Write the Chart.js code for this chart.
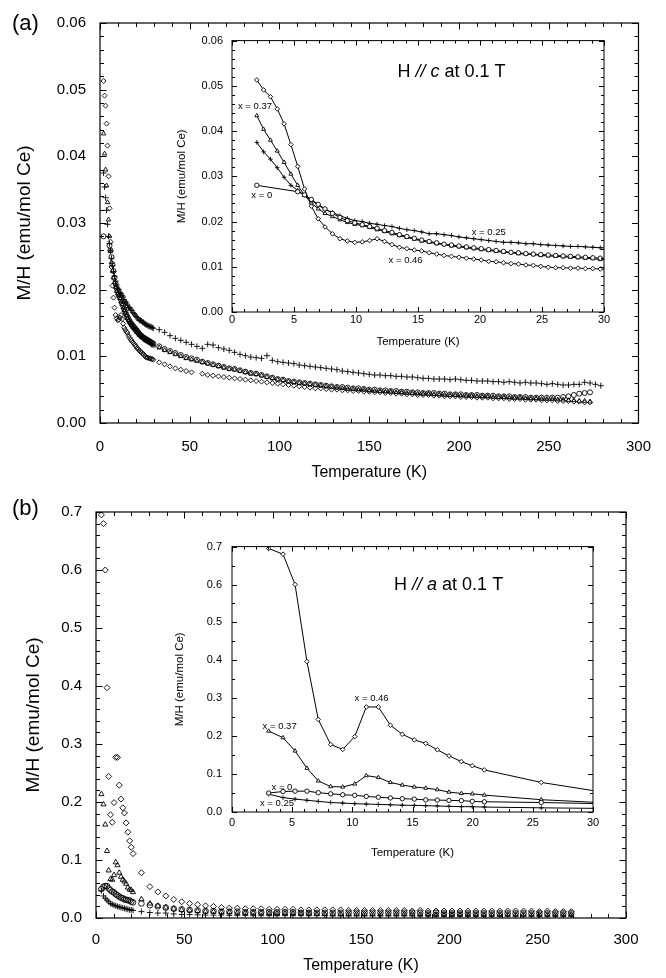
<!DOCTYPE html>
<html lang="en">
<head>
<meta charset="UTF-8">
<title>M/H vs Temperature</title>
<script src="https://cdn.jsdelivr.net/npm/chart.js@4.4.1/dist/chart.umd.min.js"></script>
<style>
  body { margin: 0; background: #fff; }
  #wrap { position: relative; width: 666px; height: 978px; font-family: "Liberation Sans", Arial, sans-serif; }
  canvas { position: absolute; }
  .tag { position: absolute; font-size: 22px; line-height: 1; color: #000; }
</style>
</head>
<body>
<div id="wrap">
  <canvas id="mainA" width="666" height="500" style="left:0px;top:0px"></canvas>
  <canvas id="insetA" width="450" height="330" style="left:170px;top:25px"></canvas>
  <canvas id="mainB" width="666" height="498" style="left:0px;top:480px"></canvas>
  <canvas id="insetB" width="440" height="340" style="left:170px;top:530px"></canvas>
  <div class="tag" style="left:12px;top:12px">(a)</div>
  <div class="tag" style="left:12px;top:497px">(b)</div>
</div>
<script>
// ---- panel (a): H // c, temperatures (K) and M/H (emu/mol Ce) ----
const tA = [2.0,2.55,3.1,3.65,4.2,4.75,5.3,5.85,6.4,6.95,7.5,8.1,8.7,9.3,9.9,10.5,11.1,11.7,12.3,12.9,
  13.5,14.1,14.7,15.3,15.9,16.5,17.1,17.7,18.3,18.9,19.5,20.1,20.7,21.3,21.9,22.5,23.1,23.7,24.3,24.9,
  25.5,26.1,26.7,27.3,27.9,28.5,29.1,29.7,
  33,36,39,42,45,48,51,54,57,60,63,66,69,72,75,78,81,84,87,90,93,96,99,102,105,108,111,114,117,120,
  123,126,129,132,135,138,141,144,147,150,153,156,159,162,165,168,171,174,177,180,183,186,189,192,195,198,
  201,204,207,210,213,216,219,222,225,228,231,234,237,240,243,246,249,252,255,258,261,264,267,270,273,276,279];

const a000 = [.0280,null,null,null,null,null,.0266,.0259,.0249,.0238,.0228,.0218,.0209,.0202,.0197,.0193,.0189,.0185,.0180,.0176,
  .0171,.0167,.0163,.0159,.0156,.0153,.0150,.0148,.0146,.0144,.0142,.0140,.0138,.0136,.0134,.0132,.0131,.0129,.0128,.0127,
  .0126,.0125,.0124,.0123,.0122,.0121,.0120,.0119,
  .0115,.0111,.0108,.0105,.0102,.0099,.0097,.0095,.0092,.0090,.0088,.0086,.0084,.0082,.0081,.0079,.0077,.0075,.0074,.0072,
  .0070,.0068,.0066,.0065,.0063,.0062,.0061,.0060,.0059,.0058,.0057,.0056,.0055,.0054,.0054,.0053,.0052,.0052,.0051,.0050,
  .0050,.0049,.0049,.0048,.0048,.0047,.0047,.0046,.0046,.0045,.0045,.0045,.0044,.0044,.0043,.0043,.0043,.0042,.0042,.0042,
  .0041,.0041,.0041,.0040,.0040,.0040,.0039,.0039,.0039,.0038,.0038,.0038,.0038,.0038,.0038,.0039,.0040,.0042,.0044,.0045,
  .0046,null,null];

const a025 = [.0375,.0354,.0338,.0319,.0298,.0280,.0269,.0258,.0247,.0236,.0227,.0220,.0213,.0207,.0202,.0200,.0196,.0194,.0191,.0189,
  .0185,.0182,.0180,.0177,.0173,.0173,.0171,.0169,.0166,.0164,.0162,.0160,.0158,.0156,.0154,.0154,.0153,.0151,.0151,.0149,
  .0148,.0147,.0146,.0145,.0145,.0144,.0143,.0142,
  .0140,.0136,.0131,.0127,.0124,.0121,.0118,.0115,.0112,.0118,.0117,.0113,.0111,.0109,.0106,.0103,.0101,.0099,.0098,.0097,
  .0101,.0094,.0092,.0091,.0090,.0089,.0087,.0086,.0085,.0084,.0083,.0082,.0081,.0080,.0078,.0077,.0076,.0075,.0074,.0073,
  .0072,.0072,.0071,.0071,.0070,.0070,.0069,.0069,.0068,.0067,.0067,.0066,.0066,.0066,.0065,.0066,.0065,.0064,.0064,.0063,
  .0063,.0063,.0062,.0062,.0061,.0062,.0061,.0060,.0061,.0060,.0060,.0059,.0058,.0059,.0058,.0057,.0057,.0058,.0058,.0061,
  .0060,.0058,.0056];

const a037 = [.0434,.0404,.0380,.0356,.0331,.0305,.0280,.0258,.0241,.0228,.0218,.0211,.0204,.0198,.0194,.0191,.0187,.0182,.0178,.0173,
  .0169,.0165,.0161,.0157,.0154,.0151,.0149,.0146,.0144,.0142,.0140,.0138,.0136,.0134,.0132,.0131,.0129,.0128,.0127,.0125,
  .0124,.0123,.0122,.0121,.0120,.0119,.0118,.0116,
  .0113,.0109,.0106,.0103,.0100,.0097,.0095,.0093,.0091,.0089,.0087,.0085,.0083,.0081,.0080,.0078,.0076,.0074,.0073,.0071,
  .0069,.0067,.0065,.0064,.0062,.0061,.0060,.0059,.0058,.0057,.0056,.0055,.0054,.0053,.0052,.0051,.0051,.0050,.0050,.0049,
  .0048,.0048,.0047,.0047,.0046,.0046,.0045,.0045,.0044,.0044,.0044,.0043,.0043,.0042,.0042,.0042,.0041,.0041,.0041,.0040,
  .0040,.0040,.0039,.0039,.0039,.0038,.0038,.0038,.0037,.0037,.0037,.0036,.0036,.0036,.0035,.0035,.0034,.0034,.0033,.0033,
  .0032,null,null];

const a046 = [.0513,.0491,.0476,.0449,.0416,.0370,.0322,.0272,.0234,.0206,.0188,.0173,.0162,.0157,.0154,.0155,.0158,.0162,.0156,.0149,
  .0143,.0140,.0137,.0135,.0131,.0128,.0125,.0123,.0121,.0119,.0117,.0115,.0112,.0111,.0109,.0107,.0106,.0104,.0103,.0101,
  .0099,.0098,.0098,.0097,.0097,.0096,.0096,.0095,
  .0091,.0088,.0085,.0082,.0080,.0078,.0076,null,.0074,.0072,.0071,.0070,.0069,.0068,.0067,.0066,.0065,.0064,.0063,.0062,
  .0061,.0060,.0059,.0058,.0057,.0056,.0055,.0054,.0053,.0052,.0052,.0051,.0050,.0050,.0049,.0049,.0048,.0048,.0047,.0047,
  .0046,.0046,.0045,.0045,.0044,.0044,.0043,.0043,.0042,.0042,.0042,.0041,.0041,.0040,.0040,.0040,.0039,.0039,.0039,.0038,
  .0038,.0038,.0037,.0037,.0037,.0036,.0036,.0036,.0035,.0035,.0035,.0034,.0034,.0034,.0033,.0033,.0033,.0032,.0032,.0031,
  .0031,null,null];

// ---- panel (b): H // a ----
const tB = [3.05,4.24,5.24,6.23,7.17,8.2,9.2,10.2,11.16,12.16,13.16,14.15,15.15,16.1,17.06,18.03,19.06,19.97,20.97,25.7,30.5,
  35,39.5,44,48.5,53,57.5,62,66.5,71,75.5,80,84.5,89,93.5,98,102.5,107,111.5,116,120.5,125,129.5,134,138.5,
  143,147.5,152,156.5,161,165.5,170,174.5,179,183.5,188,192.5,197,201.5,206,210.5,215,219.5,224,228.5,233,237.5,
  242,246.5,251,255.5,260,264.5,269];

const b000 = [.050,.054,.055,.055,.051,.048,.0455,.044,.041,.039,.037,.035,.034,.032,.0315,.0306,.030,.028,.027,.025,.022,
  .020,.018,.016,.015,.014,.013,.012,.012,.011,.011,.011,.010,.010,.010,.010,.010,.010,.010,.009,.009,
  .009,.009,.009,.009,.009,.009,.009,.009,.009,.009,.009,.009,.009,.009,.008,.009,.008,.008,.008,.008,
  .008,.008,.008,.008,.008,.008,.008,.008,.008,.008,.008,.008,.008];

const b025 = [.047,.038,.034,.031,.028,.025,.0236,.022,.021,.020,.019,.018,.0175,.0166,.0158,.015,.014,.014,.013,.011,.0095,
  .0085,.0085,.007,.006,.006,.0055,.005,.005,.005,.0045,.0045,.0045,.004,.004,.004,.004,.004,.004,.004,.004,
  .004,.004,.0035,.0035,.0035,.0035,.0035,.0035,.0035,.0035,.0035,.0035,.0035,.0035,.0035,.003,.003,.003,.003,.003,
  .003,.003,.003,.003,.003,.003,.003,.003,.003,.003,.003,.003,.003];

const b037 = [.2135,.196,.161,.1155,.082,.067,.066,.074,.096,.091,.078,.071,.066,.063,.059,.0525,.049,.048,.0446,.0324,.025,
  .021,.018,.016,.014,.013,.012,.011,.011,.010,.010,.009,.009,.009,.009,.008,.008,.008,.008,.008,.008,
  .007,.007,.007,.007,.007,.007,.007,.007,.007,.007,.007,.007,.007,.006,.006,.006,.006,.006,.006,.006,
  .006,.006,.006,.006,.006,.006,.006,.006,.006,.006,.006,.006,.006];

const b046 = [.695,.680,.600,.397,.244,.178,.165,.199,.277,.277,.229,.205,.190,.181,.164,.148,.133,.122,.111,.078,.054,
  .045,.038,.032,.028,.025,.023,.021,.020,.018,.017,.017,.016,.016,.016,.015,.015,.015,.015,.014,.014,
  .014,.014,.014,.014,.013,.013,.013,.013,.013,.013,.013,.013,.012,.013,.012,.012,.012,.012,.012,.012,
  .012,.012,.012,.012,.012,.012,.012,.012,.011,.012,.011,.011,.011];

const FONT = '"Liberation Sans", Arial, Helvetica, sans-serif';
Chart.defaults.font.family = FONT;
Chart.defaults.color = '#000';

// box + inward ticks on all four sides, and text notes placed in data units
const FRAMES = {
  mainA:  { lw: 1.2, xMinor: 10, xMajor: 50, yMinor: 0.002, yMajor: 0.01, minor: 4, major: 6.5 },
  insetA: { lw: 1, xMinor: 1, xMajor: 5, yMinor: 0.002, yMajor: 0.01, minor: 3, major: 5 },
  mainB:  { lw: 1.2, xMinor: 10, xMajor: 50, yMinor: 0.02, yMajor: 0.1, minor: 4, major: 6.5 },
  insetB: { lw: 1, xMinor: 1, xMajor: 5, yMinor: 0.05, yMajor: 0.1, minor: 3, major: 5 }
};

const title = ax => [['H ', 0], ['//', 1], [' ', 0], [ax, 1], [' at 0.1 T', 0]];
const NOTES = {
  insetA: [
    { x: 17.7, y: 0.0531, size: 18, parts: title('c') },
    { x: 1.85, y: 0.0455, size: 9.5, parts: [['x = 0.37', 0]] },
    { x: 2.4, y: 0.0258, size: 9.5, parts: [['x = 0', 0]] },
    { x: 20.7, y: 0.0177, size: 9.5, parts: [['x = 0.25', 0]] },
    { x: 14.0, y: 0.0114, size: 9.5, parts: [['x = 0.46', 0]] }
  ],
  insetB: [
    { x: 18.0, y: 0.599, size: 18, parts: title('a') },
    { x: 11.6, y: 0.299, size: 9.5, parts: [['x = 0.46', 0]] },
    { x: 3.96, y: 0.227, size: 9.5, parts: [['x = 0.37', 0]] },
    { x: 4.15, y: 0.066, size: 9.5, parts: [['x = 0', 0]] },
    { x: 3.74, y: 0.022, size: 9.5, parts: [['x = 0.25', 0]] }
  ]
};

function marks(lo, hi, step, major) {
  const out = [], n = Math.round((hi - lo) / step);
  for (let i = 0; i <= n; i++) {
    const v = lo + i * step, r = v / major;
    out.push([v, Math.abs(r - Math.round(r)) < 1e-6]);
  }
  return out;
}

const framePlugin = {
  id: 'frame',
  afterDraw(chart) {
    const o = FRAMES[chart.canvas.id];
    const { ctx, chartArea: a } = chart;
    const x = chart.scales.x, y = chart.scales.y;
    ctx.save();
    ctx.strokeStyle = '#000';
    ctx.lineWidth = o.lw;
    ctx.strokeRect(a.left, a.top, a.right - a.left, a.bottom - a.top);
    ctx.lineWidth = 1;
    ctx.beginPath();
    marks(x.min, x.max, o.xMinor, o.xMajor).forEach(([v, big]) => {
      const p = Math.round(x.getPixelForValue(v)) + 0.5, l = big ? o.major : o.minor;
      ctx.moveTo(p, a.bottom); ctx.lineTo(p, a.bottom - l);
      ctx.moveTo(p, a.top); ctx.lineTo(p, a.top + l);
    });
    marks(y.min, y.max, o.yMinor, o.yMajor).forEach(([v, big]) => {
      const p = Math.round(y.getPixelForValue(v)) + 0.5, l = big ? o.major : o.minor;
      ctx.moveTo(a.left, p); ctx.lineTo(a.left + l, p);
      ctx.moveTo(a.right, p); ctx.lineTo(a.right - l, p);
    });
    ctx.stroke();

    (NOTES[chart.canvas.id] || []).forEach(n => {
      const f = it => (it ? 'italic ' : '') + n.size + 'px ' + FONT;
      let w = 0;
      n.parts.forEach(([s, it]) => { ctx.font = f(it); w += ctx.measureText(s).width; });
      let cx = x.getPixelForValue(n.x) - w / 2;
      const cy = y.getPixelForValue(n.y);
      ctx.fillStyle = '#000';
      ctx.textAlign = 'left';
      ctx.textBaseline = 'middle';
      n.parts.forEach(([s, it]) => { ctx.font = f(it); ctx.fillText(s, cx, cy); cx += ctx.measureText(s).width; });
    });
    ctx.restore();
  }
};
Chart.register(framePlugin);

const pts = (T, V) => T.map((t, i) => ({ x: t, y: V[i] })).filter(p => p.y != null);

function series(T, V, shape, r, line) {
  return {
    data: pts(T, V),
    pointStyle: shape,
    pointRadius: r,
    pointBorderWidth: 0.9,
    pointBorderColor: '#000',
    pointBackgroundColor: line ? '#fff' : 'rgba(0,0,0,0)',
    showLine: line,
    borderColor: '#000',
    borderWidth: 1
  };
}

function makeChart(id, sets, s) {
  return new Chart(document.getElementById(id), {
    type: 'scatter',
    data: { datasets: sets },
    options: {
      responsive: false,
      animation: false,
      devicePixelRatio: 1,
      events: [],
      layout: { padding: { top: s.pt, right: s.pr, left: 0, bottom: 0 } },
      plugins: { legend: { display: false }, tooltip: { enabled: false } },
      scales: {
        x: {
          type: 'linear', min: 0, max: s.x1,
          grid: { display: false, drawTicks: false }, border: { display: false },
          ticks: { stepSize: s.xs, padding: s.xp, font: { size: s.fs }, maxRotation: 0, autoSkip: false },
          title: { display: true, text: 'Temperature (K)', font: { size: s.ts }, padding: { top: 0, bottom: s.xtb } },
          afterFit: sc => { sc.height = s.xh; }
        },
        y: {
          type: 'linear', min: 0, max: s.y1,
          grid: { display: false, drawTicks: false }, border: { display: false },
          ticks: { stepSize: s.ys, padding: s.yp, font: { size: s.fs }, autoSkip: false,
                   callback: v => Number(v).toFixed(s.dec) },
          title: { display: true, text: 'M/H (emu/mol Ce)', font: { size: s.yts }, padding: { top: s.ytt, bottom: 0 } },
          afterFit: sc => { sc.width = s.yw; }
        }
      }
    }
  });
}

// main panel (a)
makeChart('mainA', [
  series(tA, a000, 'circle', 2.5, false),
  series(tA, a025, 'cross', 3, false),
  series(tA, a037, 'triangle', 2.6, false),
  series(tA, a046, 'rectRot', 2.5, false)
], { pt: 12, pr: 27, xh: 77, yw: 100, x1: 300, xs: 50, y1: 0.06, ys: 0.01, dec: 2,
     fs: 15, ts: 16, yts: 19, xp: 15, yp: 14, xtb: 18, ytt: 13 });

// inset (a)
makeChart('insetA', [
  series(tA, a000, 'circle', 2.2, true),
  series(tA, a025, 'cross', 2.3, true),
  series(tA, a037, 'triangle', 2.3, true),
  series(tA, a046, 'rectRot', 2.3, true)
], { pt: 12, pr: 16, xh: 43, yw: 62, x1: 30, xs: 5, y1: 0.06, ys: 0.01, dec: 2,
     fs: 11, ts: 11.5, yts: 11.5, xp: 1.5, yp: 9, xtb: 6, ytt: 5 });

// main panel (b)
makeChart('mainB', [
  series(tB, b000, 'circle', 2.8, false),
  series(tB, b025, 'cross', 3, false),
  series(tB, b037, 'triangle', 3, false),
  series(tB, b046, 'rectRot', 3, false)
], { pt: 32, pr: 40, xh: 60, yw: 96, x1: 300, xs: 50, y1: 0.7, ys: 0.1, dec: 1,
     fs: 15, ts: 16, yts: 19, xp: 13, yp: 14, xtb: 3, ytt: 22 });

// inset (b)
makeChart('insetB', [
  series(tB, b000, 'circle', 2.2, true),
  series(tB, b025, 'cross', 2.3, true),
  series(tB, b037, 'triangle', 2.3, true),
  series(tB, b046, 'rectRot', 2.3, true)
], { pt: 16, pr: 17, xh: 58, yw: 62, x1: 30, xs: 5, y1: 0.7, ys: 0.1, dec: 1,
     fs: 11, ts: 11.5, yts: 11.5, xp: 4.4, yp: 10, xtb: 10, ytt: 3 });
</script>
</body>
</html>
